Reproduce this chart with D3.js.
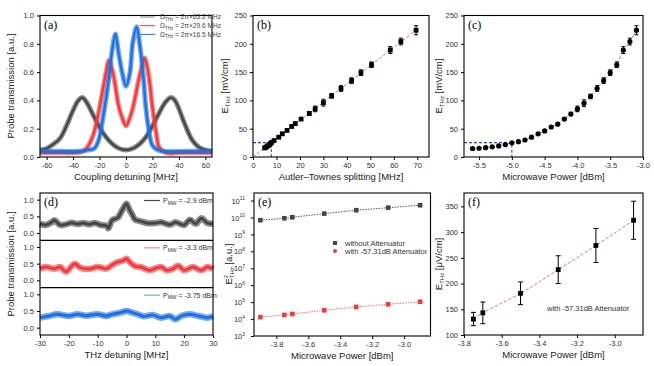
<!DOCTYPE html>
<html><head><meta charset="utf-8">
<script src="https://cdn.jsdelivr.net/npm/d3@7"></script>
<style>
body{margin:0;background:#fff}
text{font-family:"Liberation Sans",Arial,sans-serif}
</style></head><body><div class="chart"></div>
<script>
// ---- (a) probe transmission vs coupling detuning
const aLabels = ["63.2", "29.6", "16.5"];
const aBlackX = [-65,-60,-55,-50,-45,-40,-36,-33,-30,-25,-20,-15,-10,-5,0,5,10,15,20,25,30,34,37,40,45,50,55,60,65];
const aBlackY = [0.05,0.06,0.09,0.13,0.22,0.33,0.40,0.42,0.39,0.30,0.21,0.14,0.09,0.06,0.05,0.06,0.09,0.14,0.22,0.31,0.39,0.42,0.40,0.34,0.22,0.12,0.07,0.05,0.04];
const aRedX = [-65,-50,-40,-33,-30,-25,-21,-18,-15,-13,-10,-8,-6,-3,0,3,6,9,12,14,16,18,20,23,25,30,40,50,65];
const aRedY = [0.03,0.03,0.03,0.04,0.06,0.15,0.30,0.45,0.60,0.68,0.60,0.50,0.38,0.28,0.22,0.28,0.38,0.52,0.64,0.70,0.64,0.52,0.35,0.16,0.07,0.03,0.03,0.03,0.03];
const aBlueX = [-65,-50,-35,-28,-24,-21,-17,-13,-11,-8,-6,-3,0,3,5,8,10,13,15,18,20,24,30,45,65];
const aBlueY = [0.04,0.04,0.04,0.05,0.06,0.11,0.30,0.55,0.72,0.87,0.76,0.60,0.50,0.60,0.80,0.92,0.82,0.58,0.35,0.15,0.08,0.05,0.04,0.04,0.04];

// ---- (b) E_THz vs Autler-Townes splitting
const atSplit = [5,5.5,6,6.5,7,7.5,8,9,11,12.5,14.5,16.5,18,20.5,24,26.5,30,33.5,37.5,42,46,50.5,58.5,63,69.5];
const eField  = [16,17,19,20,22,24,26,29,35,41,47,54,59,67,77,85,96,108,121,135,149,163,189,204,224];
const eErr    = [1,1,1,1,1,1,1,1,1.5,1.5,2,2,2,2,3,5,6,4,5,5,5,5,6,6,8];
const fitBX = [0, 70];
const fitBY = [0, 226];
const guideAT = 7.8, guideE = 25.4;

// ---- (c) E_THz vs microwave power
const mwPower = [-5.6,-5.5,-5.4,-5.3,-5.2,-5.1,-5.0,-4.9,-4.8,-4.7,-4.6,-4.5,-4.4,-4.3,-4.2,-4.1,-4.0,-3.9,-3.8,-3.7,-3.6,-3.5,-3.4,-3.3,-3.2,-3.1];
const cField  = [15,15.5,16.5,18,19.5,22,25,27,30,35,41,46,53,58,67,76,85,95,107,121,135,149,163,189,204,224];
const cErr    = [1,1,1,1,1,1,1,1,1,1.5,1.5,2,2,2,2,3,5,6,4,5,5,5,5,6,6,8];
const guidePower = -5.0;

// ---- (d) probe transmission vs THz detuning
const dLabels = ["-2.9", "-3.3", "-3.75"];
const dBlackX = [-30,-28,-26,-25,-23,-21,-19,-17,-15,-13,-11,-9,-7,-6.3,-5,-3,-2,-1,0,1,2,3,5,7,10,12,15,17,20,22,24,26,28,30];
const dBlackY = [0.28,0.24,0.32,0.38,0.24,0.26,0.31,0.27,0.30,0.26,0.30,0.24,0.22,0.14,0.38,0.46,0.60,0.76,0.88,0.70,0.55,0.40,0.35,0.30,0.30,0.32,0.25,0.32,0.24,0.40,0.28,0.44,0.30,0.28];
const dRedX = [-30,-28,-25,-23,-21,-18,-16,-13,-10,-7,-5,-3,-1,0,1,3,5,8,10,12,14,16,18,20,23,26,28,30];
const dRedY = [0.35,0.40,0.35,0.40,0.26,0.50,0.38,0.34,0.40,0.35,0.46,0.55,0.60,0.65,0.56,0.42,0.40,0.30,0.36,0.40,0.30,0.34,0.44,0.30,0.40,0.30,0.40,0.34];
const dBlueX = [-30,-27,-24,-20,-17,-14,-10,-7,-5,-2,0,2,4,6,9,12,15,17,19,22,25,28,30];
const dBlueY = [0.30,0.35,0.40,0.35,0.40,0.36,0.40,0.35,0.40,0.45,0.50,0.45,0.40,0.34,0.38,0.30,0.35,0.25,0.35,0.40,0.35,0.30,0.34];

// ---- (e) E^2 (log) vs microwave power
const ePower = [-3.9,-3.75,-3.7,-3.5,-3.3,-3.1,-2.9];
const e2Without = [6.9e9, 9.0e9, 1.03e10, 1.7e10, 2.7e10, 3.8e10, 5.3e10];
const e2With = [1.3e4, 1.75e4, 2.0e4, 3.3e4, 5.2e4, 7.5e4, 1.05e5];
const eLegend = ["without Attenuator", "with -57.31dB Attenuator"];

// ---- (f) E_THz (uV/cm) with attenuator
const fPower = [-3.75,-3.7,-3.5,-3.3,-3.1,-2.9];
const fField = [131,143,181,227,274,323];
const fErr = [13,21,22,27,33,37];

const col = {black:"#454545", red:"#ee3b3e", blue:"#1e6fe0"};

const svg = d3.select(".chart").append("svg").attr("width",654).attr("height",366);

const fmt = d => String(d).replace("\u2212","-");

function axes(x, y, opts){
  const g = svg.append("g");
  const [x0,x1] = x.range(), [y0,y1] = y.range();
  const ax = g.append("g").attr("transform",`translate(0,${y0})`)
    .call(d3.axisBottom(x).tickValues(opts.xt).tickSize(3).tickFormat(opts.xf || (d=>fmt(d))));
  style(ax);
  if (opts.yt){
    const ay = g.append("g").attr("transform",`translate(${x0},0)`)
      .call(d3.axisLeft(y).tickValues(opts.yt).tickSize(3).tickFormat(opts.yf || (d=>fmt(d))));
    style(ay);
  }
  g.append("rect").attr("x",x0).attr("y",y1).attr("width",x1-x0).attr("height",y0-y1)
    .attr("fill","none").attr("stroke","#000").attr("stroke-width",1.1);
  if (opts.xl) g.append("text").attr("x",(x0+x1)/2).attr("y",y0+23).attr("text-anchor","middle")
    .attr("font-size",9.5).attr("fill","#222").text(opts.xl);
  if (opts.label) g.append("text").attr("x",x0+4).attr("y",y1+13)
    .style("font-family","'Liberation Serif','Times New Roman',serif").attr("font-size",12).text(opts.label);
  return g;
}
function style(a){
  a.select(".domain").remove();
  a.selectAll("text").attr("font-size",7.5).attr("fill","#333");
}
function yTitle(x, yc, parts){
  const t = svg.append("text").attr("transform",`translate(${x},${yc}) rotate(-90)`)
    .attr("text-anchor","middle").attr("font-size",9.5).attr("fill","#222");
  parts(t);
}
function eThz(t, unit){
  t.append("tspan").text("E");
  t.append("tspan").attr("font-size",6).attr("dy",2).text("THz");
  t.append("tspan").attr("dy",-2).text(" [" + unit + "]");
}
function trace(x, y, xs, ys, color, w){
  const pts = xs.map((v,i)=>[x(v), y(ys[i])]);
  const line = d3.line().curve(d3.curveCatmullRom.alpha(0.5));
  svg.append("path").attr("d",line(pts)).attr("fill","none").attr("stroke",color)
    .attr("stroke-width",w).attr("stroke-opacity",0.6).attr("stroke-linejoin","round");
  svg.append("path").attr("d",line(pts)).attr("fill","none").attr("stroke",color)
    .attr("stroke-width",w*0.45).attr("stroke-linejoin","round");
}
function errBars(x, y, xs, ys, es, cap){
  xs.forEach((v,i)=>{
    const cx = x(v), t = y(ys[i]+es[i]), b = y(ys[i]-es[i]);
    svg.append("line").attr("x1",cx).attr("x2",cx).attr("y1",t).attr("y2",b).attr("stroke","#000").attr("stroke-width",1);
    [t,b].forEach(yy=>svg.append("line").attr("x1",cx-cap).attr("x2",cx+cap).attr("y1",yy).attr("y2",yy).attr("stroke","#000").attr("stroke-width",1));
  });
}

// ===== (a)
const xA = d3.scaleLinear([-65,65],[40,212]);
const yA = d3.scaleLinear([0,1],[157,15.5]);
trace(xA,yA,aBlackX,aBlackY,col.black,5);
trace(xA,yA,aRedX,aRedY,col.red,5);
trace(xA,yA,aBlueX,aBlueY,col.blue,5);
axes(xA,yA,{xt:d3.range(-60,61,20), yt:d3.range(0,1.01,0.2), yf:d=>d.toFixed(1), xl:"Coupling detuning [MHz]", label:"(a)"});
yTitle(14,86,t=>t.text("Probe transmission [a.u.]"));
["#888",col.red,col.blue].forEach((c,i)=>{
  const yy = 17 + i*8.7;
  svg.append("line").attr("x1",140).attr("x2",155).attr("y1",yy).attr("y2",yy).attr("stroke",c).attr("stroke-width",1);
  const t = svg.append("text").attr("x",160).attr("y",yy+2.3).attr("font-size",6.6).attr("fill","#444");
  t.append("tspan").text("Ω");
  t.append("tspan").attr("font-size",4.5).attr("dy",1.5).text("THz");
  t.append("tspan").attr("dy",-1.5).text(" = 2π×" + aLabels[i] + " MHz");
});

// ===== (b)
const xB = d3.scaleLinear([0,75],[253,429]);
const yB = d3.scaleLinear([0,250],[157,15.5]);
svg.append("path").attr("d",d3.line()(fitBX.map((v,i)=>[xB(v),yB(fitBY[i])])))
  .attr("stroke","#f06a6a").attr("stroke-width",1).attr("stroke-dasharray","3,2").attr("fill","none");
svg.append("path").attr("d",d3.line()([[xB(0),yB(guideE)],[xB(guideAT),yB(guideE)],[xB(guideAT),yB(0)]]))
  .attr("stroke","#2a3fe0").attr("stroke-width",1.1).attr("stroke-dasharray","3,2").attr("fill","none");
errBars(xB,yB,atSplit,eField,eErr,2);
svg.append("g").selectAll("rect").data(atSplit).join("rect")
  .attr("x",d=>xB(d)-2.4).attr("y",(d,i)=>yB(eField[i])-2.4).attr("width",4.8).attr("height",4.8).attr("fill","#000");
axes(xB,yB,{xt:d3.range(0,71,10), yt:d3.range(0,251,50), xl:"Autler\u2013Townes splitting [MHz]", label:"(b)"});
yTitle(228,86,t=>eThz(t,"mV/cm"));

// ===== (c)
const xC = d3.scaleLinear([-5.73,-3.0],[464,643]);
const yC = d3.scaleLinear([0,250],[157,15.5]);
svg.append("path").attr("d",d3.line().curve(d3.curveCatmullRom)(mwPower.map((v,i)=>[xC(v),yC(cField[i])])))
  .attr("stroke","#f06a6a").attr("stroke-width",1).attr("stroke-dasharray","3,2").attr("fill","none");
svg.append("path").attr("d",d3.line()([[xC.range()[0],yC(guideE)],[xC(guidePower),yC(guideE)],[xC(guidePower),yC(0)]]))
  .attr("stroke","#2a3fe0").attr("stroke-width",1.1).attr("stroke-dasharray","3,2").attr("fill","none");
errBars(xC,yC,mwPower,cField,cErr,2);
svg.append("g").selectAll("circle").data(mwPower).join("circle")
  .attr("cx",d=>xC(d)).attr("cy",(d,i)=>yC(cField[i])).attr("r",2.6).attr("fill","#000");
axes(xC,yC,{xt:[-5.5,-5,-4.5,-4,-3.5,-3], xf:d=>d.toFixed(1), yt:d3.range(0,251,50), xl:"Microwave Power [dBm]", label:"(c)"});
yTitle(442,86,t=>eThz(t,"mV/cm"));

// ===== (d)
const xD = d3.scaleLinear([-30,30],[40,213]);
const dTop = 193, dBot = 335, dH = (dBot-dTop)/3;
const dSeries = [[dBlackX,dBlackY,col.black],[dRedX,dRedY,col.red],[dBlueX,dBlueY,col.blue]];
dSeries.forEach((s,i)=>{
  const yD = d3.scaleLinear([-0.22,1.2],[dTop+dH*(i+1), dTop+dH*i]);
  trace(xD,yD,s[0],s[1],s[2],6.5);
  const ay = svg.append("g").attr("transform",`translate(40,0)`)
    .call(d3.axisLeft(yD).tickValues([0,0.5,1]).tickSize(3).tickFormat(d=>d.toFixed(1)));
  style(ay);
  const ly = dTop + dH*i + 7.5;
  svg.append("line").attr("x1",144).attr("x2",160).attr("y1",ly).attr("y2",ly).attr("stroke",s[2]).attr("stroke-width",1.2).attr("stroke-opacity",i?0.6:1);
  const t = svg.append("text").attr("x",163).attr("y",ly+2.5).attr("font-size",7).attr("fill","#333");
  t.append("tspan").text("P");
  t.append("tspan").attr("font-size",5).attr("dy",1.5).text("MW");
  t.append("tspan").attr("dy",-1.5).text(" = " + dLabels[i] + " dBm");
  if (i) svg.append("line").attr("x1",40).attr("x2",213).attr("y1",dTop+dH*i).attr("y2",dTop+dH*i).attr("stroke","#000").attr("stroke-width",1.1);
});
axes(xD,d3.scaleLinear([0,1],[dBot,dTop]),{xt:d3.range(-30,31,10), xl:"THz detuning [MHz]", label:"(d)"});
yTitle(14,264,t=>t.text("Probe transmission [a.u.]"));

// ===== (e)
const xE = d3.scaleLinear([-3.94,-2.835],[254,430.5]);
const yE = d3.scaleLog([1e3,2.8e11],[336,193]);
[[e2Without,"#555",col.black],[e2With,"#f07070",col.red]].forEach(([vals,lc,mc],k)=>{
  svg.append("path").attr("d",d3.line()(ePower.map((v,i)=>[xE(v),yE(vals[i])])))
    .attr("stroke",lc).attr("stroke-width",1).attr("stroke-dasharray","1.5,1.2").attr("fill","none");
  svg.append("g").selectAll("rect").data(ePower).join("rect")
    .attr("x",d=>xE(d)-2.3).attr("y",(d,i)=>yE(vals[i])-2.3).attr("width",4.6).attr("height",4.6).attr("fill",mc);
});
axes(xE,yE,{xt:[-3.8,-3.6,-3.4,-3.2,-3.0], xf:d=>d.toFixed(1), xl:"Microwave Power [dBm]", label:"(e)"});
const ayE = svg.append("g").attr("transform","translate(254,0)")
  .call(d3.axisLeft(yE).tickValues(d3.range(3,12).map(p=>Math.pow(10,p))).tickSize(3).tickFormat(""));
style(ayE);
ayE.selectAll(".tick").append("text").attr("x",-5).attr("dy","0.35em").attr("text-anchor","end")
  .attr("font-size",7.5).attr("fill","#333").each(function(d){
    const t = d3.select(this);
    t.append("tspan").text("10");
    t.append("tspan").attr("font-size",5).attr("dy",-3.5).text(Math.round(Math.log10(d)));
  });
ayE.selectAll(".tick text").attr("transform","translate(-4,0)");
yTitle(232,264,t=>{
  t.append("tspan").text("E");
  t.append("tspan").attr("font-size",6).attr("dy",-4).text("2");
  t.append("tspan").attr("font-size",6).attr("dx",-3.5).attr("dy",6).text("THz");
  t.append("tspan").attr("dy",-2).text(" [a.u.]");
});
eLegend.forEach((s,i)=>{
  const yy = 243 + i*8;
  if (i===0) svg.append("rect").attr("x",333).attr("y",yy-2).attr("width",4).attr("height",4).attr("fill",col.black);
  else svg.append("circle").attr("cx",335).attr("cy",yy).attr("r",2).attr("fill",col.red);
  svg.append("text").attr("x",345).attr("y",yy+2.5).attr("font-size",7.5).attr("fill","#333").text(s);
});

// ===== (f)
const xF = d3.scaleLinear([-3.8,-2.85],[464,643]);
const yF = d3.scaleLinear([100,376],[335,193]);
svg.append("path").attr("d",d3.line().curve(d3.curveCatmullRom)(fPower.map((v,i)=>[xF(v),yF(fField[i])])))
  .attr("stroke","#f06a6a").attr("stroke-width",1).attr("stroke-dasharray","3,2").attr("fill","none");
errBars(xF,yF,fPower,fField,fErr,2.5);
svg.append("g").selectAll("rect").data(fPower).join("rect")
  .attr("x",d=>xF(d)-2.4).attr("y",(d,i)=>yF(fField[i])-2.4).attr("width",4.8).attr("height",4.8).attr("fill","#000");
axes(xF,yF,{xt:[-3.8,-3.6,-3.4,-3.2,-3.0], xf:d=>d.toFixed(1), yt:d3.range(100,351,50), xl:"Microwave Power [dBm]", label:"(f)"});
yTitle(442,264,t=>eThz(t,"μV/cm"));
svg.append("text").attr("x",547).attr("y",311).attr("font-size",7.5).attr("fill","#333").text("with -57.31dB Attenuator");
</script></body></html>
